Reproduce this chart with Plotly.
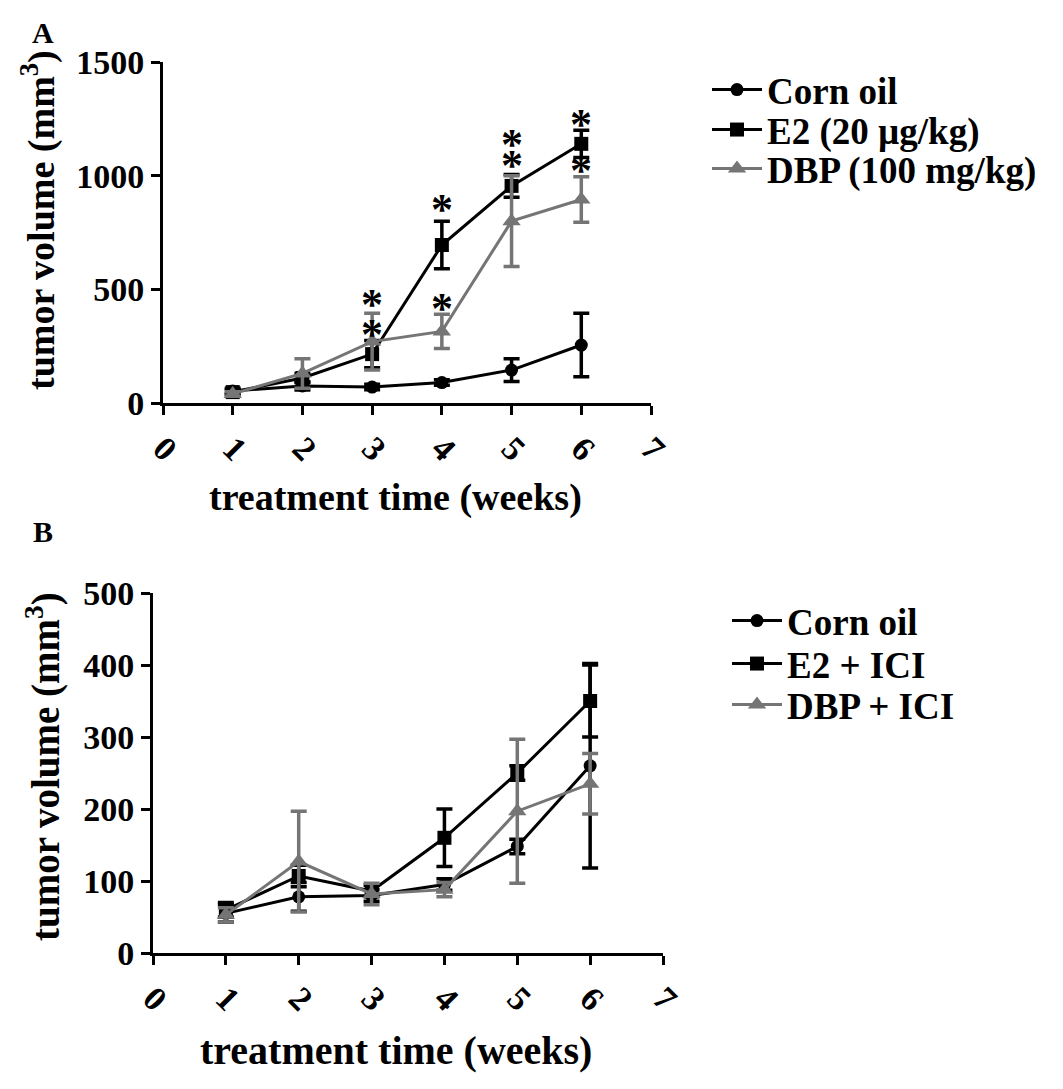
import plotly.graph_objects as go

# the page adds an 8px body margin, so the figure is made 16px smaller
# and all reference pixel positions are shifted by that margin
W, H = 1047, 1073
OFF = 8

weeks = [1, 2, 3, 4, 5, 6]

# Panel A
a_corn = [53, 75, 70, 90, 145, 255]
a_corn_err = [12, 18, 12, 12, 50, 140]
a_e2 = [48, 110, 215, 695, 955, 1140]
a_e2_err = [10, 20, 60, 105, 50, 60]
a_dbp = [40, 130, 270, 315, 800, 895]
a_dbp_err = [10, 65, 125, 75, 200, 100]
a_star_x = [3, 3, 4, 4, 5, 5, 6, 6]
a_star_y = [468, 335, 887, 453, 1174, 1078, 1262, 1056]

# Panel B
b_corn = [55, 78, 80, 95, 148, 260]
b_corn_err = [12, 20, 8, 8, 10, 142]
b_e2 = [60, 107, 86, 160, 250, 350]
b_e2_err = [10, 15, 8, 40, 10, 50]
b_dbp = [53, 127, 82, 88, 197, 235]
b_dbp_err = [10, 70, 15, 10, 100, 42]

a_names = ["Corn oil", "E2 (20 \u00b5g/kg)", "DBP (100 mg/kg)"]
b_names = ["Corn oil", "E2 + ICI", "DBP + ICI"]

FONT = "Liberation Serif"
GRAY = "#757575"
styles = [("black", "circle", 13), ("black", "square", 14), (GRAY, "triangle-up", 16)]


def px_x(p):
    return (p - OFF) / W


def px_y(p):
    return 1 - (p - OFF) / H


fig = go.Figure()

# one legend per entry so the rows can sit as close as in the original
legend_rows = [
    ("legend", 707, 90), ("legend2", 707, 130), ("legend3", 707, 169),
    ("legend4", 727, 621), ("legend5", 727, 664), ("legend6", 727, 705),
]

panels = [
    ("x", "y", [a_corn, a_e2, a_dbp], [a_corn_err, a_e2_err, a_dbp_err], a_names),
    ("x2", "y2", [b_corn, b_e2, b_dbp], [b_corn_err, b_e2_err, b_dbp_err], b_names),
]
k = 0
for xa, ya, series, errs, names in panels:
    for (color, sym, size), vals, err, name in zip(styles, series, errs, names):
        fig.add_trace(go.Scatter(
            x=weeks, y=vals, name=name, xaxis=xa, yaxis=ya, legend=legend_rows[k][0],
            mode="lines+markers",
            line=dict(color=color, width=3),
            marker=dict(symbol=sym, size=size, color=color),
            error_y=dict(type="data", array=err, visible=True,
                         color=color, thickness=3.5, width=8),
        ))
        k += 1

# significance stars
for sx, sy in zip(a_star_x, a_star_y):
    fig.add_annotation(x=sx, y=sy, xref="x", yref="y", text="*", showarrow=False,
                       yshift=-8, font=dict(family=FONT, size=44, color="black"))

axis_common = dict(
    showline=True, linecolor="black", linewidth=3, ticks="outside",
    ticklen=9, tickwidth=3, tickcolor="black", showgrid=False, zeroline=False,
    automargin=False,
    tickfont=dict(family=FONT, size=34, color="black", weight="bold"),
)

leg_font = dict(family=FONT, size=37, color="black", weight="bold")
legends = {}
for name, lx, ly in legend_rows:
    legends[name] = dict(x=px_x(lx), y=px_y(ly), xanchor="left", yanchor="middle",
                         font=leg_font, itemwidth=50, bgcolor="rgba(0,0,0,0)")

fig.update_layout(
    width=W, height=H,
    margin=dict(l=0, r=0, t=0, b=0, autoexpand=False),
    plot_bgcolor="white", paper_bgcolor="white",
    font=dict(family=FONT, color="black", weight="bold"),
    xaxis=dict(domain=[px_x(163), px_x(651)], range=[0, 7], dtick=1,
               tickangle=45, anchor="y", **axis_common),
    yaxis=dict(domain=[px_y(403), px_y(62)], range=[0, 1500], dtick=500,
               anchor="x", **axis_common),
    xaxis2=dict(domain=[px_x(153), px_x(663)], range=[0, 7], dtick=1,
                tickangle=45, anchor="y2", **axis_common),
    yaxis2=dict(domain=[px_y(953), px_y(593)], range=[0, 500], dtick=100,
                anchor="x2", **axis_common),
    showlegend=True,
    **legends,
)

ann_font = dict(family=FONT, color="black", weight="bold")
annotations = [
    dict(text="A", x=px_x(43), y=px_y(33), size=30),
    dict(text="B", x=px_x(43), y=px_y(531), size=30),
    dict(text="tumor volume (mm<sup>3</sup>)", x=px_x(38), y=px_y(220), size=38, angle=-90),
    dict(text="tumor volume (mm<sup>3</sup>)", x=px_x(43), y=px_y(767), size=39, angle=-90),
    dict(text="treatment time (weeks)", x=px_x(395), y=px_y(497), size=38),
    dict(text="treatment time (weeks)", x=px_x(396), y=px_y(1050), size=40),
]
for a in annotations:
    fig.add_annotation(
        text=a["text"], x=a["x"], y=a["y"], xref="paper", yref="paper",
        xanchor="center", yanchor="middle", showarrow=False,
        textangle=a.get("angle", 0), font=dict(size=a["size"], **ann_font),
    )

fig.write_html("out.html")
